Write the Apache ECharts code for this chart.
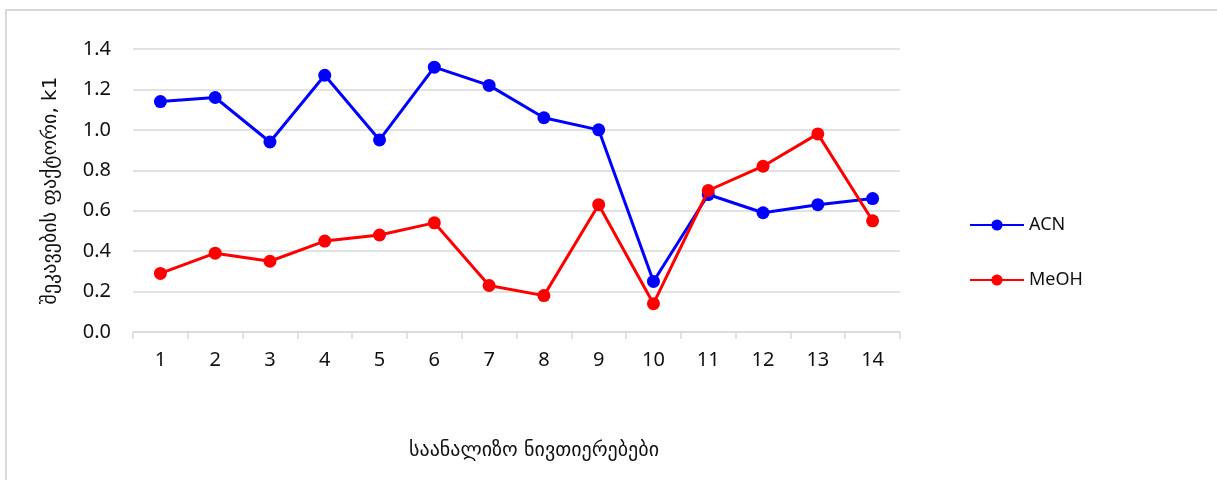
<!DOCTYPE html>
<html>
<head>
<meta charset="utf-8">
<script src="https://cdn.jsdelivr.net/npm/echarts@6/dist/echarts.min.js"></script>
<style>
  html, body { margin: 0; padding: 0; background: #fff; }
  #chart { width: 1217px; height: 480px; }
</style>
</head>
<body>
<div id="chart"></div>
<script>
// Compounds 1..14 on the category axis
const categories = ['1','2','3','4','5','6','7','8','9','10','11','12','13','14'];
// Retention factor k1 with acetonitrile as organic modifier
const acnValues = [1.14, 1.16, 0.94, 1.27, 0.95, 1.31, 1.22, 1.06, 1.00, 0.25, 0.68, 0.59, 0.63, 0.66];
// Retention factor k1 with methanol as organic modifier
const meohValues = [0.29, 0.39, 0.35, 0.45, 0.48, 0.54, 0.23, 0.18, 0.63, 0.14, 0.70, 0.82, 0.98, 0.55];
const seriesNames = ['ACN', 'MeOH'];
const yAxisTitle = 'შეკავების ფაქტორი, k1';
const xAxisTitle = 'საანალიზო ნივთიერებები';

const gridColor = '#d9d9d9';
const textColor = '#111111';
const labelFont = '"Noto Sans", "Open Sans", sans-serif';
const geoFont = '"DejaVu Sans", sans-serif';

const chart = echarts.init(document.getElementById('chart'), null, { renderer: 'canvas' });

function legendAt(name, top) {
  return {
    data: [name],
    left: 964,
    top: top,
    itemWidth: 54,
    itemHeight: 14,
    itemGap: 0,
    textStyle: { fontSize: 18, color: textColor, fontFamily: labelFont },
    selectedMode: false
  };
}

chart.setOption({
  animation: false,
  backgroundColor: '#fff',
  graphic: [
    {
      type: 'rect',
      shape: { x: 6, y: 10, width: 1400, height: 700 },
      style: { fill: 'none', stroke: gridColor, lineWidth: 2 },
      silent: true
    },
    {
      type: 'text',
      style: {
        x: 534, y: 451,
        text: xAxisTitle,
        fontSize: 20,
        fontFamily: geoFont,
        fill: textColor,
        textAlign: 'center',
        textVerticalAlign: 'middle'
      },
      silent: true
    }
  ],
  legend: [legendAt(seriesNames[0], 211), legendAt(seriesNames[1], 266)],
  grid: { left: 133, right: 317, top: 49, bottom: 148, containLabel: false },
  xAxis: {
    type: 'category',
    data: categories,
    boundaryGap: true,
    axisLine: { show: true, lineStyle: { color: gridColor, width: 1.5 } },
    axisTick: { show: true, alignWithLabel: false, length: 7, lineStyle: { color: gridColor, width: 1.5 } },
    axisLabel: { fontSize: 20, color: textColor, fontFamily: labelFont, margin: 18 },
    splitLine: { show: false }
  },
  yAxis: {
    type: 'value',
    min: 0,
    max: 1.4,
    interval: 0.2,
    name: yAxisTitle,
    nameLocation: 'middle',
    nameRotate: 90,
    nameGap: 72,
    nameTextStyle: { fontSize: 20, color: textColor, fontFamily: geoFont },
    axisLine: { show: false },
    axisTick: { show: false },
    axisLabel: {
      fontSize: 20, color: textColor, fontFamily: labelFont, margin: 22,
      formatter: v => v.toFixed(1)
    },
    splitLine: { show: true, lineStyle: { color: gridColor, width: 1.5 } }
  },
  series: [
    {
      name: seriesNames[0],
      type: 'line',
      data: acnValues,
      symbol: 'circle',
      symbolSize: 13,
      color: '#0000ff',
      lineStyle: { width: 3, color: '#0000ff' },
      itemStyle: { color: '#0000ff' },
      z: 2
    },
    {
      name: seriesNames[1],
      type: 'line',
      data: meohValues,
      symbol: 'circle',
      symbolSize: 13,
      color: '#ff0000',
      lineStyle: { width: 3, color: '#ff0000' },
      itemStyle: { color: '#ff0000' },
      z: 3
    }
  ]
});
</script>
</body>
</html>
